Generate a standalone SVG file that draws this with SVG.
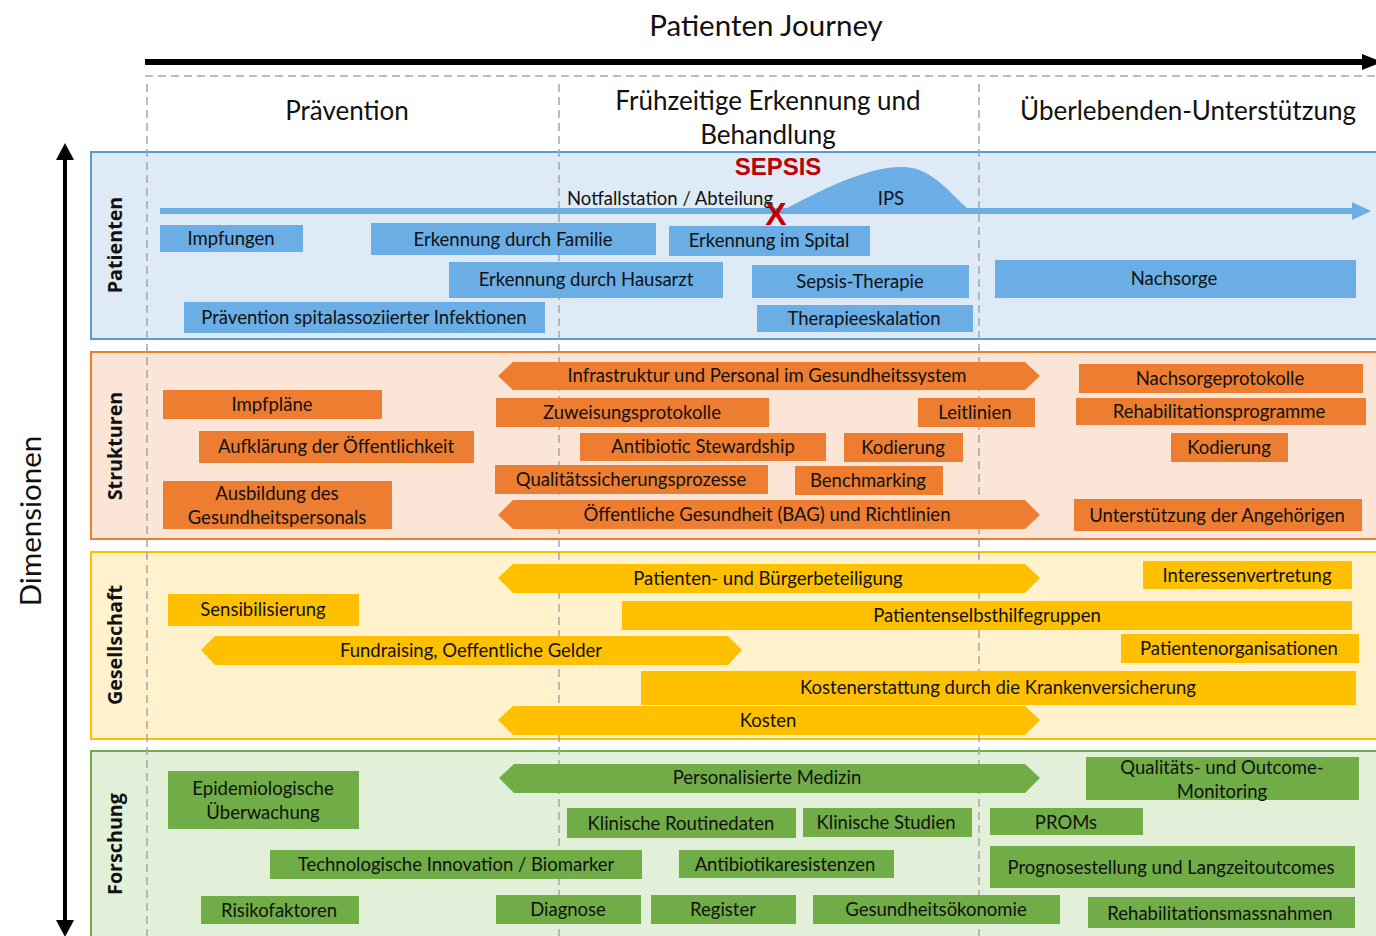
<svg xmlns="http://www.w3.org/2000/svg" width="1376" height="936" viewBox="0 0 1376 936">
<style>
text{font-family:Lato,"Open Sans","DejaVu Sans",sans-serif;fill:#111;}
.t{font-size:18.5px;text-anchor:middle;}
.h{font-size:26px;text-anchor:middle;}
.dim{font-family:"Open Sans","Noto Sans",sans-serif;font-weight:700;font-size:19.7px;text-anchor:middle;}
.b{fill:#6aaee5;}
.o{fill:#ed7d31;}
.y{fill:#ffc000;}
.g{fill:#70ad47;}
.dash{stroke:#a6a6a6;stroke-width:1.5;stroke-dasharray:8 5;fill:none;}
</style>

<!-- title and top arrow -->
<g id="title">
<text class="h" x="766" y="36" style="font-size:29.5px">Patienten Journey</text>
<line x1="145" y1="62" x2="1364" y2="62" stroke="#000" stroke-width="6"/>
<polygon points="1362,54 1382,62 1362,70" fill="#000"/>
</g>

<!-- band backgrounds -->
<g id="bands">
<rect x="91" y="152" width="1295" height="187" fill="#deebf7" stroke="#5b9bd5" stroke-width="2"/>
<rect x="91" y="352" width="1295" height="187" fill="#fbe5d6" stroke="#ed7d31" stroke-width="2"/>
<rect x="91" y="552" width="1295" height="187" fill="#fff2cc" stroke="#ffc000" stroke-width="2"/>
<rect x="91" y="751" width="1295" height="195" fill="#e2f0d9" stroke="#70ad47" stroke-width="2"/>
</g>

<!-- grid dashed lines -->
<g id="grid">
<line class="dash" x1="145" y1="76" x2="1376" y2="76"/>
<line class="dash" x1="147" y1="84" x2="147" y2="936"/>
<line class="dash" x1="559" y1="84" x2="559" y2="936"/>
<line class="dash" x1="979" y1="84" x2="979" y2="936"/>
</g>

<!-- phase headers -->
<g id="phases">
<text class="h" x="347" y="120">Prävention</text>
<text class="h" x="768" y="110">Frühzeitige Erkennung und</text>
<text class="h" x="768" y="144">Behandlung</text>
<text class="h" x="1188" y="120">Überlebenden-Unterstützung</text>
</g>

<!-- dimensions axis -->
<g id="dimensionen">
<line x1="65" y1="156" x2="65" y2="924" stroke="#000" stroke-width="4"/>
<polygon points="56,160 65,143 74,160" fill="#000"/>
<polygon points="56,920 65,937 74,920" fill="#000"/>
<text class="h" transform="translate(41,521) rotate(-90)" style="font-size:29.5px">Dimensionen</text>
</g>

<!-- band labels -->
<g id="labels">
<text class="dim" transform="translate(122,245) rotate(-90)">Patienten</text>
<text class="dim" transform="translate(122,446) rotate(-90)">Strukturen</text>
<text class="dim" transform="translate(122,645) rotate(-90)">Gesellschaft</text>
<text class="dim" transform="translate(122,844) rotate(-90)">Forschung</text>
</g>

<!-- patient journey -->
<g id="journey">
<path class="b" d="M780 212 C820 190,870 165,905 167 C935 169,950 195,972 212 Z"/>
<line x1="160" y1="211" x2="1354" y2="211" stroke="#6aaee5" stroke-width="6"/>
<polygon class="b" points="1352,202 1371,211 1352,220"/>
<text x="778" y="175" style="font-family:'Liberation Sans',Arial,sans-serif;font-weight:700;font-size:24px;fill:#c00000;text-anchor:middle">SEPSIS</text>
<text class="t" x="670" y="205">Notfallstation / Abteilung</text>
<text class="t" x="891" y="205">IPS</text>
<text x="776" y="225" style="font-family:'Liberation Sans',Arial,sans-serif;font-weight:700;font-size:32px;fill:#c00000;text-anchor:middle">X</text>
</g>

<!-- Patienten -->
<g id="patienten">
<g id="p1"><rect class="b" x="160" y="225" width="143" height="27"/><text class="t" x="231" y="245">Impfungen</text></g>
<g id="p2"><rect class="b" x="371" y="223" width="285" height="32"/><text class="t" x="513" y="246">Erkennung durch Familie</text></g>
<g id="p3"><rect class="b" x="669" y="226" width="201" height="30"/><text class="t" x="769" y="247">Erkennung im Spital</text></g>
<g id="p4"><rect class="b" x="449" y="262" width="274" height="36"/><text class="t" x="586" y="286">Erkennung durch Hausarzt</text></g>
<g id="p5"><rect class="b" x="752" y="265" width="217" height="33"/><text class="t" x="860" y="288">Sepsis-Therapie</text></g>
<g id="p6"><rect class="b" x="995" y="260" width="361" height="38"/><text class="t" x="1174" y="285">Nachsorge</text></g>
<g id="p7"><rect class="b" x="184" y="302" width="361" height="31"/><text class="t" x="364" y="324">Prävention spitalassoziierter Infektionen</text></g>
<g id="p8"><rect class="b" x="757" y="305" width="216" height="27"/><text class="t" x="864" y="325">Therapieeskalation</text></g>
</g>

<!-- Strukturen -->
<g id="strukturen">
<g id="s1"><polygon class="o" points="498,376 513,362 1025,362 1040,376 1025,390 513,390"/><text class="t" x="767" y="382">Infrastruktur und Personal im Gesundheitssystem</text></g>
<g id="s2"><rect class="o" x="163" y="390" width="219" height="29"/><text class="t" x="272" y="411">Impfpläne</text></g>
<g id="s3"><rect class="o" x="496" y="398" width="273" height="29"/><text class="t" x="632" y="419">Zuweisungsprotokolle</text></g>
<g id="s4"><rect class="o" x="918" y="398" width="117" height="29"/><text class="t" x="975" y="419">Leitlinien</text></g>
<g id="s5"><rect class="o" x="1079" y="364" width="284" height="29"/><text class="t" x="1220" y="385">Nachsorgeprotokolle</text></g>
<g id="s6"><rect class="o" x="1076" y="398" width="290" height="27"/><text class="t" x="1219" y="418">Rehabilitationsprogramme</text></g>
<g id="s7"><rect class="o" x="199" y="431" width="275" height="32"/><text class="t" x="336" y="453">Aufklärung der Öffentlichkeit</text></g>
<g id="s8"><rect class="o" x="580" y="433" width="246" height="28"/><text class="t" x="703" y="453">Antibiotic Stewardship</text></g>
<g id="s9"><rect class="o" x="844" y="433" width="119" height="29"/><text class="t" x="903" y="454">Kodierung</text></g>
<g id="s10"><rect class="o" x="1171" y="433" width="117" height="29"/><text class="t" x="1229" y="454">Kodierung</text></g>
<g id="s11"><rect class="o" x="495" y="465" width="273" height="29"/><text class="t" x="631" y="486">Qualitätssicherungsprozesse</text></g>
<g id="s12"><rect class="o" x="795" y="466" width="148" height="29"/><text class="t" x="868" y="487">Benchmarking</text></g>
<g id="s13"><rect class="o" x="163" y="481" width="229" height="48"/><text class="t" x="277" y="500">Ausbildung des</text><text class="t" x="277" y="524">Gesundheitspersonals</text></g>
<g id="s14"><polygon class="o" points="498,515 513,500 1025,500 1040,515 1025,529 513,529"/><text class="t" x="767" y="521">Öffentliche Gesundheit (BAG) und Richtlinien</text></g>
<g id="s15"><rect class="o" x="1074" y="499" width="288" height="32"/><text class="t" x="1217" y="522">Unterstützung der Angehörigen</text></g>
</g>

<!-- Gesellschaft -->
<g id="gesellschaft">
<g id="g1"><polygon class="y" points="498,578 513,564 1025,564 1040,578 1025,593 513,593"/><text class="t" x="768" y="585">Patienten- und Bürgerbeteiligung</text></g>
<g id="g2"><rect class="y" x="1143" y="561" width="209" height="28"/><text class="t" x="1247" y="582">Interessenvertretung</text></g>
<g id="g3"><rect class="y" x="168" y="594" width="191" height="32"/><text class="t" x="263" y="616">Sensibilisierung</text></g>
<g id="g4"><rect class="y" x="622" y="601" width="730" height="29"/><text class="t" x="987" y="622">Patientenselbsthilfegruppen</text></g>
<g id="g5"><polygon class="y" points="201,650 215,636 728,636 742,650 728,665 215,665"/><text class="t" x="471" y="657">Fundraising, Oeffentliche Gelder</text></g>
<g id="g6"><rect class="y" x="1121" y="634" width="238" height="29"/><text class="t" x="1239" y="655">Patientenorganisationen</text></g>
<g id="g7"><rect class="y" x="641" y="671" width="715" height="34"/><text class="t" x="998" y="694">Kostenerstattung durch die Krankenversicherung</text></g>
<g id="g8"><polygon class="y" points="498,720 513,706 1025,706 1040,720 1025,735 513,735"/><text class="t" x="768" y="727">Kosten</text></g>
</g>

<!-- Forschung -->
<g id="forschung">
<g id="f1"><polygon class="g" points="499,778 514,764 1025,764 1040,778 1025,793 514,793"/><text class="t" x="767" y="784">Personalisierte Medizin</text></g>
<g id="f2"><rect class="g" x="1086" y="757" width="273" height="43"/><text class="t" x="1222" y="774">Qualitäts- und Outcome-</text><text class="t" x="1222" y="798">Monitoring</text></g>
<g id="f3"><rect class="g" x="168" y="771" width="191" height="58"/><text class="t" x="263" y="795">Epidemiologische</text><text class="t" x="263" y="819">Überwachung</text></g>
<g id="f4"><rect class="g" x="567" y="808" width="229" height="30"/><text class="t" x="681" y="830">Klinische Routinedaten</text></g>
<g id="f5"><rect class="g" x="803" y="808" width="169" height="29"/><text class="t" x="886" y="829">Klinische Studien</text></g>
<g id="f6"><rect class="g" x="990" y="808" width="153" height="27"/><text class="t" x="1066" y="829">PROMs</text></g>
<g id="f7"><rect class="g" x="270" y="850" width="372" height="29"/><text class="t" x="456" y="871">Technologische Innovation / Biomarker</text></g>
<g id="f8"><rect class="g" x="679" y="850" width="215" height="28"/><text class="t" x="785" y="871">Antibiotikaresistenzen</text></g>
<g id="f9"><rect class="g" x="990" y="846" width="365" height="42"/><text class="t" x="1171" y="874">Prognosestellung und Langzeitoutcomes</text></g>
<g id="f10"><rect class="g" x="201" y="896" width="158" height="28"/><text class="t" x="279" y="917">Risikofaktoren</text></g>
<g id="f11"><rect class="g" x="496" y="895" width="145" height="29"/><text class="t" x="568" y="916">Diagnose</text></g>
<g id="f12"><rect class="g" x="651" y="895" width="145" height="29"/><text class="t" x="723" y="916">Register</text></g>
<g id="f13"><rect class="g" x="813" y="895" width="247" height="29"/><text class="t" x="936" y="916">Gesundheitsökonomie</text></g>
<g id="f14"><rect class="g" x="1088" y="897" width="267" height="31"/><text class="t" x="1220" y="920">Rehabilitationsmassnahmen</text></g>
</g>
</svg>
